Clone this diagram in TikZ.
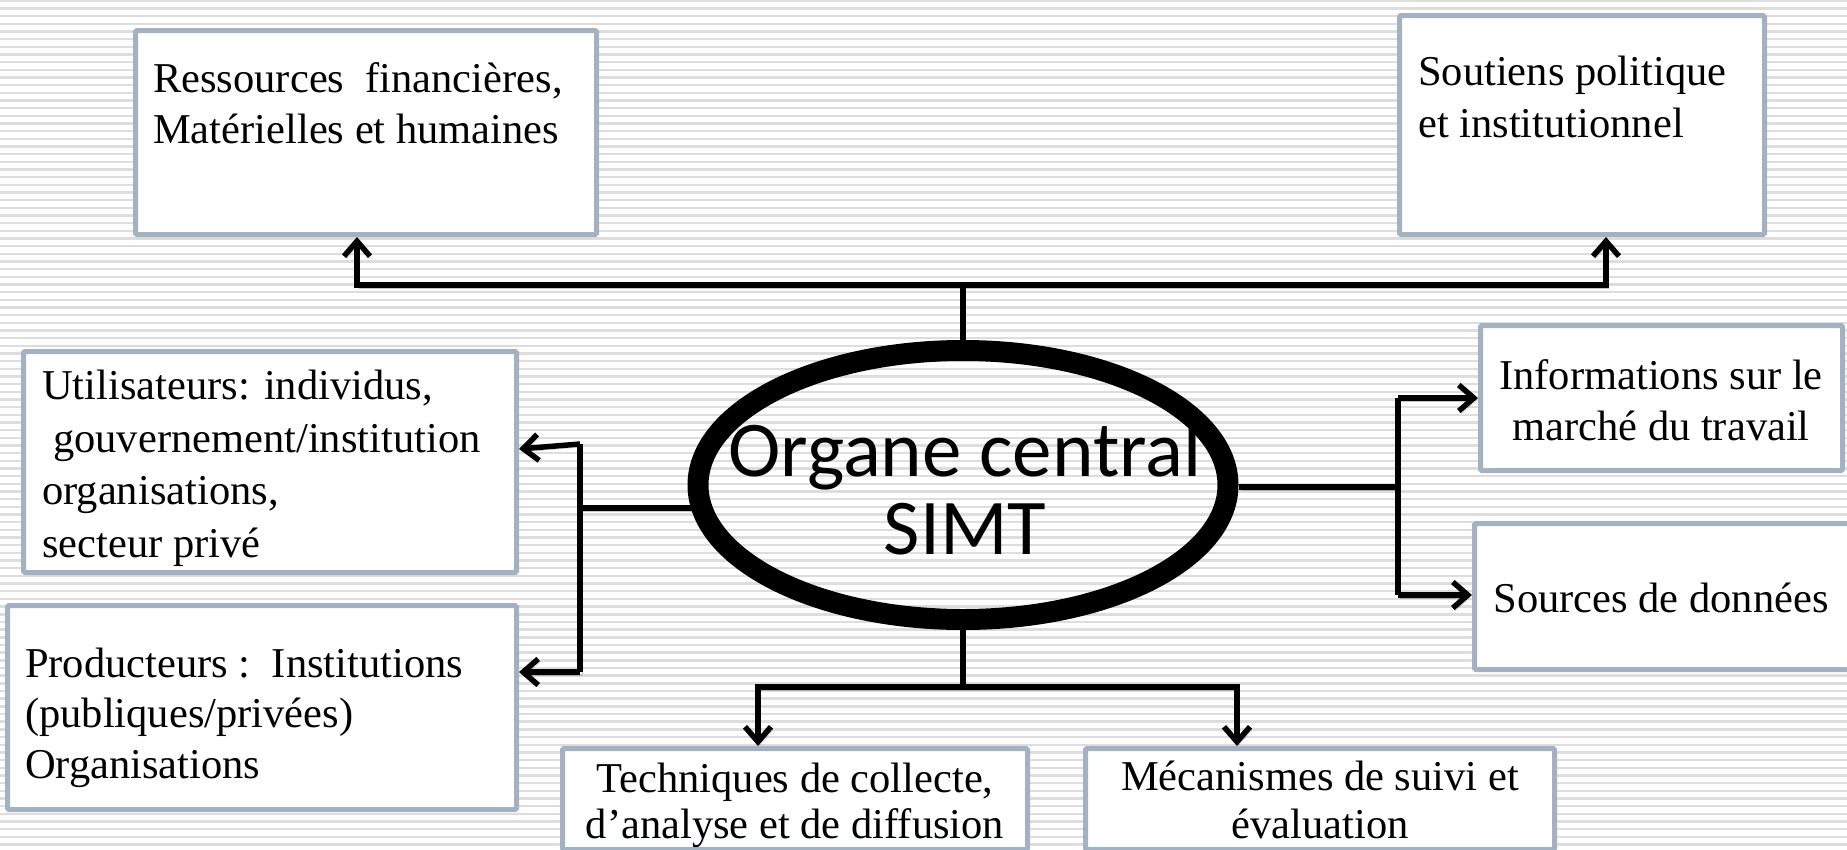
\documentclass[tikz,border=0pt]{standalone}
\usepackage{fontspec}
\setmainfont{Liberation Serif}
\newfontfamily\orgfont{Carlito}
\usetikzlibrary{arrows.meta,shapes.geometric}
\definecolor{stripec}{RGB}{221,221,221}
\definecolor{boxc}{RGB}{163,178,195}
\begin{document}
\begin{tikzpicture}[x=1pt,y=-1pt,
  box/.style={draw=boxc, line width=5pt, fill=white, rectangle, rounded corners=1.5pt, inner sep=0pt},
  tx/.style={inner sep=0pt, font=\fontsize{42.5}{51}\selectfont},
  conn/.style={line width=5.5pt, draw=black,
    preaction={draw=black, opacity=0.22, transform canvas={shift={(2pt,-3pt)}}}},
  arr/.style={conn, -{Straight Barb[length=15pt,width=26pt]}},
]
\useasboundingbox (0,0) rectangle (1847,849);
\fill[white] (0,0) rectangle (1847,849);
\foreach \i in {0,...,111} \fill[stripec] (0,{\i*7.67-0.5}) rectangle (1847,{\i*7.67+1.9});

% boxes
\node[box, minimum width=461pt, minimum height=204pt] (b1) at (366,132.5) {};
\node[box, minimum width=365pt, minimum height=219pt] (b2) at (1582,125) {};
\node[box, minimum width=362pt, minimum height=145pt] (b3) at (1661.5,398) {};
\node[box, minimum width=375pt, minimum height=146pt] (b4) at (1662,596.5) {};
\node[box, minimum width=493pt, minimum height=221pt] (b5) at (270,462) {};
\node[box, minimum width=509pt, minimum height=204pt] (b6) at (262,707.5) {};
\node[box, minimum width=465pt, minimum height=101pt] (b7) at (795,799) {};
\node[box, minimum width=469pt, minimum height=101pt] (b8) at (1320,799) {};

% texts (base anchor = baseline of the last line)
\node[tx, anchor=base west, align=left] (t1) at (153,143) {Ressources\ \ financières,\\Matérielles et humaines};
\node[tx, anchor=base west, align=left, font=\fontsize{42.5}{52}\selectfont] (t2) at (1418,137) {Soutiens politique\\et institutionnel};
\node[tx, anchor=base, align=center] (t3) at (1661,440) {Informations sur le\\marché du travail};
\node[tx, anchor=base] (t4) at (1661,612) {Sources de données};
\node[tx, anchor=base west, align=left, font=\fontsize{42.5}{52.5}\selectfont] (t5) at (42,557) {Utilisateurs: individus,\\\hspace*{11pt}gouvernement/institution\\organisations,\\secteur privé};
\node[tx, anchor=base west, align=left, font=\fontsize{42.5}{50.5}\selectfont] (t6) at (25,778) {Producteurs :\ \ Institutions\\(publiques/privées)\\Organisations};
\node[tx, anchor=base, align=center, font=\fontsize{42.5}{46}\selectfont] (t7) at (795,838) {Techniques de collecte,\\d’analyse et de diffusion};
\node[tx, anchor=base, align=center, font=\fontsize{42.5}{48}\selectfont] (t8) at (1320,838) {Mécanismes de suivi et\\évaluation};

% central ellipse
\node[draw=black, line width=21pt, ellipse, minimum width=530pt, minimum height=269pt, inner sep=0pt] (org) at (963,485) {};
\node[inner sep=0pt, anchor=base, align=center, font=\orgfont\fontsize{79}{78}\selectfont] (orgt) at (965,554) {Organe central\\SIMT};

% junction coordinates
\coordinate (jt) at (963,285);
\coordinate (jl) at (580,508);
\coordinate (jlt) at (580,444);
\coordinate (jlb) at (580,672);
\coordinate (jr) at (1398,487);
\coordinate (jrt) at (1398,398);
\coordinate (jrb) at (1398,595);
\coordinate (jb) at (963,687);

% top
\draw[conn] (org.north) -- (jt);
\draw[arr] (jt) -| ([xshift=-9pt]b1.south);
\draw[arr] (jt) -| ([xshift=24pt]b2.south);
% left
\draw[conn] ([xshift=15pt]org.west |- jl) -- (jl);
\draw[conn] (jlt) -- (jlb);
\draw[arr] (jlt) -- ([yshift=13pt]b5.east);
\draw[arr] (jlb) -- (jlb -| b6.east);
% right
\draw[conn] (org.east |- jr) -- (jr);
\draw[conn] (jrt) -- (jrb);
\draw[arr] (jrt) -- (jrt -| b3.west);
\draw[arr] (jrb) -- (jrb -| b4.west);
% bottom
\draw[conn] (org.south) -- (jb);
\draw[arr] (jb) -| ([xshift=-37pt]b7.north);
\draw[arr] (jb) -| ([xshift=-83pt]b8.north);
\end{tikzpicture}
\end{document}
